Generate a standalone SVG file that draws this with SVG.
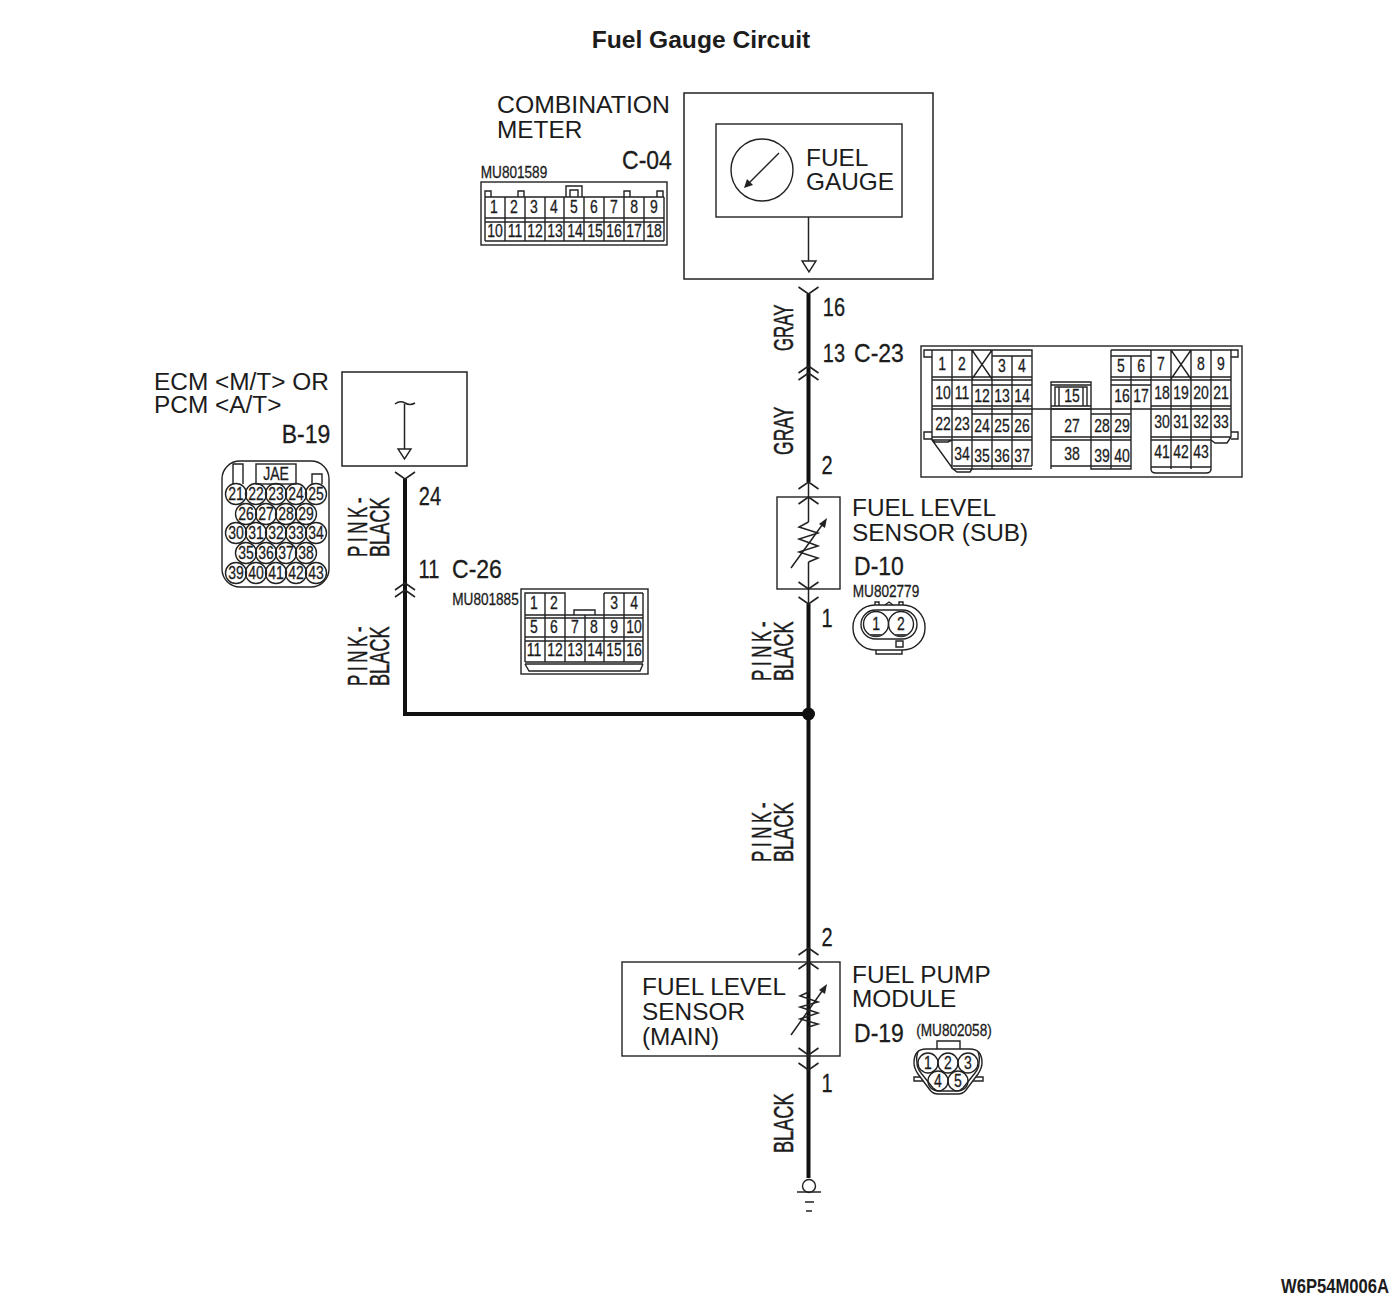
<svg xmlns="http://www.w3.org/2000/svg" width="1400" height="1304" viewBox="0 0 1400 1304">
<style>
text{font-family:"Liberation Sans",Arial,sans-serif;fill:#1c1c1c}
.l{font-size:24.4px}
.t{font-size:24.6px;font-weight:bold;text-anchor:middle}
.c,.n,.s,.k{text-anchor:middle;transform-box:fill-box;transform-origin:center;stroke:#1c1c1c;stroke-width:.3}
.c{font-size:25px;transform:scaleX(.8)}
.k{font-size:25px;transform:scaleX(.92)}
.n{font-size:17.5px;transform:scaleX(.8)}
.s{font-size:16px;transform:scaleX(.85)}
.w{font-size:27px;stroke:#1c1c1c;stroke-width:.5}
.code{font-size:21px;font-weight:bold}
.f{fill:none;stroke:#222;stroke-width:1.4}
.o{fill:#fff;stroke:#222;stroke-width:1.5}
.a{fill:#fff;stroke:#222;stroke-width:1.4}
.wire{fill:none;stroke:#111;stroke-width:4}
.thin{fill:none;stroke:#222;stroke-width:1.5}
.v{fill:none;stroke:#222;stroke-width:1.6}
</style>
<defs>
<path id="vd" class="v" d="M-10,-7L0,0L10,-7"/>
<path id="vu" class="v" d="M-10,7L0,0L10,7"/>
</defs>
<text class="t" x="701" y="48">Fuel Gauge Circuit</text>

<g id="connectors">
<path class="wire" d="M808.5,294V366M808.5,366V482M808.5,604V1178"/>
<path class="wire" d="M405,479V714H808.5"/>
<path class="thin" d="M808.5,482V522M808.5,562V604M808.5,948V992M808.5,1027V1070"/>
<circle cx="808.5" cy="714" r="6.5" fill="#111"/>
<use href="#vd" x="808.5" y="294"/>
<use href="#vu" x="808.5" y="366"/>
<use href="#vu" x="808.5" y="373"/>
<use href="#vu" x="808.5" y="482"/>
<use href="#vu" x="808.5" y="497"/>
<use href="#vd" x="808.5" y="589"/>
<use href="#vd" x="808.5" y="604"/>
<use href="#vd" x="405" y="479"/>
<use href="#vu" x="405" y="583"/>
<use href="#vu" x="405" y="590"/>
<use href="#vu" x="808.5" y="948"/>
<use href="#vu" x="808.5" y="962"/>
<use href="#vd" x="808.5" y="1055"/>
<use href="#vd" x="808.5" y="1070"/>
<text class="w" transform="translate(793,351) rotate(-90) scale(.62,1)" textLength="75" lengthAdjust="spacingAndGlyphs">GRAY</text>
<text class="w" transform="translate(793,455) rotate(-90) scale(.62,1)" textLength="78" lengthAdjust="spacingAndGlyphs">GRAY</text>
<text class="w" transform="translate(367,557) rotate(-90) scale(.62,1)" textLength="96" lengthAdjust="spacing">PINK-</text>
<text class="w" transform="translate(389,557) rotate(-90) scale(.62,1)" textLength="96" lengthAdjust="spacingAndGlyphs">BLACK</text>
<text class="w" transform="translate(367,686) rotate(-90) scale(.62,1)" textLength="96" lengthAdjust="spacing">PINK-</text>
<text class="w" transform="translate(389,686) rotate(-90) scale(.62,1)" textLength="96" lengthAdjust="spacingAndGlyphs">BLACK</text>
<text class="w" transform="translate(771,681) rotate(-90) scale(.62,1)" textLength="96" lengthAdjust="spacing">PINK-</text>
<text class="w" transform="translate(793,681) rotate(-90) scale(.62,1)" textLength="96" lengthAdjust="spacingAndGlyphs">BLACK</text>
<text class="w" transform="translate(771,862) rotate(-90) scale(.62,1)" textLength="96" lengthAdjust="spacing">PINK-</text>
<text class="w" transform="translate(793,862) rotate(-90) scale(.62,1)" textLength="96" lengthAdjust="spacingAndGlyphs">BLACK</text>
<text class="w" transform="translate(793,1153) rotate(-90) scale(.62,1)" textLength="96" lengthAdjust="spacingAndGlyphs">BLACK</text>
<text class="c" x="834" y="316">16</text>
<text class="c" x="834" y="362">13</text>
<text class="k" x="879" y="362">C-23</text>
<text class="c" x="827" y="474">2</text>
<text class="c" x="827" y="627">1</text>
<text class="c" x="430" y="505">24</text>
<text class="c" x="429" y="578">11</text>
<text class="k" x="477" y="578">C-26</text>
<text class="c" x="827" y="946">2</text>
<text class="c" x="827" y="1092">1</text>
</g>

<g id="combination-meter">
<rect class="o" x="684" y="93" width="249" height="186"/>
<rect class="f" x="716" y="124" width="186" height="93"/>
<circle class="f" cx="762" cy="170" r="31"/>
<path class="f" d="M779,153L748,184"/>
<path fill="#222" d="M744,188L747,179L753,185Z"/>
<path class="thin" d="M808.5,217V261"/>
<path class="a" d="M802,261H816L809,272Z"/>
<text class="l" x="806" y="166">FUEL</text>
<text class="l" x="806" y="190">GAUGE</text>
<text class="l" x="497" y="113" textLength="173" lengthAdjust="spacingAndGlyphs">COMBINATION</text>
<text class="l" x="497" y="138">METER</text>
<text class="k" x="647" y="169">C-04</text>
</g>

<g id="connector-c04">
<text class="s" x="514" y="178">MU801589</text>
<rect class="f" x="481" y="182" width="186" height="63"/>
<path class="f" d="M485,197H664M485,218H664M485,222H664M485,241H664M485,197V241M505,197V241M525,197V241M545,197V241M564,197V241M584,197V241M604,197V241M624,197V241M644,197V241M664,197V241"/>
<path class="f" d="M485,197V191H491V197M518,197V191H524V197M566,197V186H582V197M624,197V191H630V197M657,197V191H663V197M570,197V190H578V197"/>
<text class="n" x="494" y="213">1</text><text class="n" x="514" y="213">2</text><text class="n" x="534" y="213">3</text><text class="n" x="554" y="213">4</text><text class="n" x="574" y="213">5</text><text class="n" x="594" y="213">6</text><text class="n" x="614" y="213">7</text><text class="n" x="634" y="213">8</text><text class="n" x="654" y="213">9</text>
<text class="n" x="495" y="237">10</text><text class="n" x="515" y="237">11</text><text class="n" x="535" y="237">12</text><text class="n" x="555" y="237">13</text><text class="n" x="575" y="237">14</text><text class="n" x="595" y="237">15</text><text class="n" x="614" y="237">16</text><text class="n" x="634" y="237">17</text><text class="n" x="654" y="237">18</text>
</g>

<g id="connector-c23">
<rect class="f" x="921" y="346" width="321" height="131"/>
<path class="f" d="M932,350H1032V466M932,350V440L953,469H1032M932,377H1032M932,380H1032M972,385H1032M932,406H1032M932,409H1032M972,414H1032M932,437H1032M932,440H1032M952,440V469M972,350V469M992,350V469M1012,356V469M992,356H1032M1032,409H1151M952,350V440M972,350L992,379M992,350L972,379M953,466H1032M953,469L957,472H970L972,469M932,440L935,442H948L952,440"/>
<path class="f" d="M1111,350H1231V437M1111,350V409M1131,356V409M1151,350V469M1171,350V469M1191,350V469M1211,350V469M1111,356H1151M1111,377H1231M1111,380H1231M1111,385H1151M1151,406H1231M1151,409H1231M1151,437H1231M1151,440H1211M1171,350L1191,379M1191,350L1171,379M1151,469Q1151,473 1156,473H1206Q1211,473 1211,469M1151,467H1211M1211,440L1215,443H1227L1231,437"/>
<path class="f" d="M1051,469V382H1091V469H1131V409M1051,385H1091M1055,387H1087V406H1055ZM1059,387V406M1083,387V406M1051,406H1091M1051,409H1091M1091,414H1131M1111,409V469M1051,437H1131M1051,440H1131M1051,466H1131"/>
<path class="f" d="M932,350H924V357H932M932,432H924V439H932M1231,350H1238V357H1231M1231,432H1238V439H1231"/>
<text class="n" x="942" y="370">1</text><text class="n" x="962" y="370">2</text><text class="n" x="1002" y="372">3</text><text class="n" x="1022" y="372">4</text><text class="n" x="1121" y="372">5</text><text class="n" x="1141" y="372">6</text><text class="n" x="1161" y="370">7</text><text class="n" x="1201" y="370">8</text><text class="n" x="1221" y="370">9</text>
<text class="n" x="943" y="399">10</text><text class="n" x="962" y="399">11</text><text class="n" x="982" y="402">12</text><text class="n" x="1002" y="402">13</text><text class="n" x="1022" y="402">14</text><text class="n" x="1072" y="402">15</text><text class="n" x="1122" y="402">16</text><text class="n" x="1141" y="402">17</text><text class="n" x="1162" y="399">18</text><text class="n" x="1181" y="399">19</text><text class="n" x="1201" y="399">20</text><text class="n" x="1221" y="399">21</text>
<text class="n" x="943" y="430">22</text><text class="n" x="962" y="430">23</text><text class="n" x="982" y="432">24</text><text class="n" x="1002" y="432">25</text><text class="n" x="1022" y="432">26</text><text class="n" x="1072" y="432">27</text><text class="n" x="1102" y="432">28</text><text class="n" x="1122" y="432">29</text><text class="n" x="1162" y="428">30</text><text class="n" x="1181" y="428">31</text><text class="n" x="1201" y="428">32</text><text class="n" x="1221" y="428">33</text>
<text class="n" x="962" y="460">34</text><text class="n" x="982" y="462">35</text><text class="n" x="1002" y="462">36</text><text class="n" x="1022" y="462">37</text><text class="n" x="1072" y="460">38</text><text class="n" x="1102" y="462">39</text><text class="n" x="1122" y="462">40</text><text class="n" x="1162" y="458">41</text><text class="n" x="1181" y="458">42</text><text class="n" x="1201" y="458">43</text>
</g>

<g id="ecm-pcm">
<rect class="o" x="342" y="372" width="125" height="94"/>
<path class="thin" d="M395,404Q400,400 405,403T415,403M404.5,404V449"/>
<path class="a" d="M398,449H411L404.5,459Z"/>
<text class="l" x="154" y="390">ECM &lt;M/T&gt; OR</text>
<text class="l" x="154" y="413">PCM &lt;A/T&gt;</text>
<text class="k" x="306" y="443">B-19</text>
</g>

<g id="connector-b19">
<rect class="f" x="222" y="461" width="107" height="126" rx="18"/>
<path class="f" d="M233,484V464H243V484M312,484V474H322V484"/>
<rect class="f" x="256" y="464" width="40" height="20"/>
<text class="n" x="276" y="480">JAE</text>
<g class="f"><circle cx="236" cy="494" r="10.5"/><circle cx="256" cy="494" r="10.5"/><circle cx="276" cy="494" r="10.5"/><circle cx="296" cy="494" r="10.5"/><circle cx="316" cy="494" r="10.5"/><circle cx="246" cy="514" r="10.5"/><circle cx="266" cy="514" r="10.5"/><circle cx="286" cy="514" r="10.5"/><circle cx="306" cy="514" r="10.5"/><circle cx="236" cy="533" r="10.5"/><circle cx="256" cy="533" r="10.5"/><circle cx="276" cy="533" r="10.5"/><circle cx="296" cy="533" r="10.5"/><circle cx="316" cy="533" r="10.5"/><circle cx="246" cy="553" r="10.5"/><circle cx="266" cy="553" r="10.5"/><circle cx="286" cy="553" r="10.5"/><circle cx="306" cy="553" r="10.5"/><circle cx="236" cy="573" r="10.5"/><circle cx="256" cy="573" r="10.5"/><circle cx="276" cy="573" r="10.5"/><circle cx="296" cy="573" r="10.5"/><circle cx="316" cy="573" r="10.5"/></g>
<text class="n" x="236" y="500">21</text><text class="n" x="256" y="500">22</text><text class="n" x="276" y="500">23</text><text class="n" x="296" y="500">24</text><text class="n" x="316" y="500">25</text>
<text class="n" x="246" y="520">26</text><text class="n" x="266" y="520">27</text><text class="n" x="286" y="520">28</text><text class="n" x="306" y="520">29</text>
<text class="n" x="236" y="539">30</text><text class="n" x="256" y="539">31</text><text class="n" x="276" y="539">32</text><text class="n" x="296" y="539">33</text><text class="n" x="316" y="539">34</text>
<text class="n" x="246" y="559">35</text><text class="n" x="266" y="559">36</text><text class="n" x="286" y="559">37</text><text class="n" x="306" y="559">38</text>
<text class="n" x="236" y="579">39</text><text class="n" x="256" y="579">40</text><text class="n" x="276" y="579">41</text><text class="n" x="296" y="579">42</text><text class="n" x="316" y="579">43</text>
</g>

<g id="connector-c26">
<text class="s" x="485.500" y="605">MU801885</text>
<rect class="f" x="521" y="589" width="127" height="85"/>
<path class="f" d="M525,662V615H643V662M525,615V593H565V615M545,593V662M565,615V662M585,615V662M604,593V662M624,593V662M643,593V615M604,593H643M525,615H643M525,618H643M525,637H643M525,641H643M525,662H643M525,664H643M525,664L529,671H640L643,664M574,615V610H595V615"/>
<text class="n" x="534" y="609">1</text><text class="n" x="554" y="609">2</text><text class="n" x="614" y="609">3</text><text class="n" x="634" y="609">4</text>
<text class="n" x="534" y="633">5</text><text class="n" x="554" y="633">6</text><text class="n" x="575" y="633">7</text><text class="n" x="594" y="633">8</text><text class="n" x="614" y="633">9</text><text class="n" x="634" y="633">10</text>
<text class="n" x="534" y="656">11</text><text class="n" x="555" y="656">12</text><text class="n" x="575" y="656">13</text><text class="n" x="595" y="656">14</text><text class="n" x="614" y="656">15</text><text class="n" x="634" y="656">16</text>
</g>

<g id="fuel-level-sensor-sub">
<rect class="f" x="777" y="497" width="63" height="92"/>
<path class="thin" d="M808.5,522L799,527L818,533L799,539L818,546L799,552L818,558L808.5,562"/>
<path class="thin" d="M791,568L825,521"/>
<path fill="#222" d="M827,518L825,528L819,524Z"/>
<text class="l" x="852" y="516">FUEL LEVEL</text>
<text class="l" x="852" y="541">SENSOR (SUB)</text>
<text class="k" x="879" y="575">D-10</text>
</g>

<g id="connector-d10">
<text class="s" x="886" y="597">MU802779</text>
<rect class="f" x="853" y="605" width="72" height="45" rx="22"/>
<path class="f" d="M875,605V602H879V605M885,605L889,602L893,605M899,605V602H903V605M876,650V654H902V650M896,641H903V647H896Z"/>
<rect class="f" x="861" y="610" width="56" height="29" rx="14.500"/>
<circle class="f" cx="876" cy="624" r="12.500"/><circle class="f" cx="901" cy="624" r="12.500"/>
<path d="M868,634H884Q876,640 868,634ZM893,634H909Q901,640 893,634Z" fill="#444"/>
<text class="n" x="876" y="630">1</text><text class="n" x="901" y="630">2</text>
</g>

<g id="fuel-level-sensor-main">
<rect class="f" x="622" y="962" width="218" height="94"/>
<path class="thin" d="M808.5,992L800,996L818,1002L800,1007L818,1013L800,1019L818,1024L808.5,1027"/>
<path class="thin" d="M791,1035L825,987"/>
<path fill="#222" d="M827,984L825,994L819,990Z"/>
<text class="l" x="642" y="995">FUEL LEVEL</text>
<text class="l" x="642" y="1020">SENSOR</text>
<text class="l" x="642" y="1045">(MAIN)</text>
<text class="l" x="852" y="983">FUEL PUMP</text>
<text class="l" x="852" y="1007">MODULE</text>
<text class="k" x="879" y="1042">D-19</text>
</g>

<g id="connector-d19">
<text class="s" x="954" y="1036">(MU802058)</text>
<path class="f" d="M937,1049V1041H960V1049"/>
<path class="f" d="M926,1049H970Q982,1049 982,1063Q982,1068 978,1074L966,1090Q963,1094 958,1094H938Q933,1094 930,1090L918,1074Q914,1068 914,1063Q914,1049 926,1049Z"/>
<path class="f" d="M918,1052Q916,1056 917,1063Q917,1068 921,1073L933,1088Q936,1091 940,1091H956Q960,1091 963,1088L975,1073Q979,1068 979,1063Q980,1056 978,1052"/>
<path class="f" d="M920,1077H914V1081H923M976,1077H983V1081H973"/>
<g class="f"><circle cx="928" cy="1063" r="10"/><circle cx="948" cy="1063" r="10"/><circle cx="968" cy="1063" r="10"/><circle cx="938" cy="1081" r="10"/><circle cx="958" cy="1081" r="10"/></g>
<text class="n" x="928" y="1069">1</text><text class="n" x="948" y="1069">2</text><text class="n" x="968" y="1069">3</text><text class="n" x="938" y="1087">4</text><text class="n" x="958" y="1087">5</text>
</g>

<g id="ground">
<circle class="f" cx="809" cy="1186" r="6.5"/>
<path class="thin" d="M797,1192H821M805,1202H814M806,1211H812"/>
</g>

<text class="code" x="1281" y="1293" textLength="108" lengthAdjust="spacingAndGlyphs">W6P54M006A</text>
</svg>
